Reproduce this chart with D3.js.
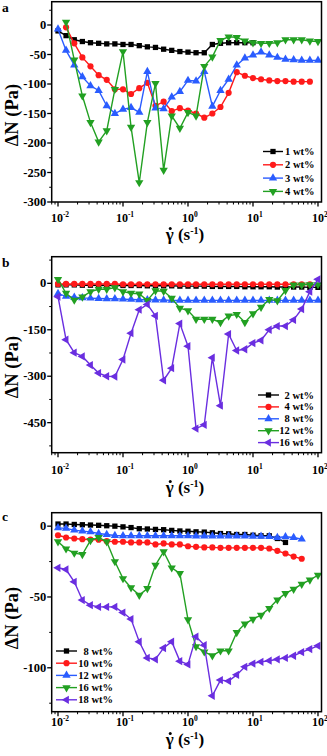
<!DOCTYPE html>
<html>
<head>
<meta charset="utf-8">
<script src="https://cdn.jsdelivr.net/npm/d3@7"></script>
<style>
  html, body { margin:0; padding:0; background:#fff; }
  svg { display:block; font-family:"Liberation Serif","Times New Roman",serif; font-weight:bold; }
</style>
</head>
<body>
<svg id="chart" width="327" height="756"></svg>
<script>
// shear rates (s^-1), 8 points per decade
var shearRate = [0.01, 0.0133, 0.0178, 0.0237, 0.0316, 0.0422, 0.0562, 0.075,
  0.1, 0.133, 0.178, 0.237, 0.316, 0.422, 0.562, 0.75,
  1, 1.33, 1.78, 2.37, 3.16, 4.22, 5.62, 7.5,
  10, 13.3, 17.8, 23.7, 31.6, 42.2, 56.2, 75, 100];
var xTickExp = [-2, -1, 0, 1, 2];

// panel a
var namesA = ['1 wt%', '2 wt%', '3 wt%', '4 wt%'];
var a1 = [-10, -18, -25, -28, -30, -31, -32, -32, -33, -33, -35, -37, -38, -41, -43, -45, -46, -47, -47, -33, -31, -30, -30, -30, -30,
  null, null, null, null, null, null, null, null];
var a2 = [null, -4, -31, -55, -70, -85, -93, -109, -109, -117, -107, -98, -137, -130, -146, -141, -145, -150, -157, -150, -139, -115,
  -80, -86, -90, -92, -94, -95, -95, -96, -96, -96, null];
var a3 = [-7, -43, -68, -88, -103, -111, -137, -150, -143, -140, -148, -79, -141, -142, -122, -113, -94, -95, -79, -138, -111, -92,
  -68, -56, -51, -46, -51, -55, -58, -59, -60, -60, -60];
var a4 = [null, 5, -59, -120, -165, -198, -179, -109, -45, -173, -267, -165, -99, -246, -154, -175, -148, -154, -70, -54, -26, -20,
  -21, -27, -30, -31, -31, -30, -25, -25, -25, -27, -28];
var yTicksA = [0, -50, -100, -150, -200, -250, -300];

// panel b
var namesB = ['2 wt%', '4 wt%', '8 wt%', '12 wt%', '16 wt%'];
var b1 = [-5, -5, -5, -6, -6, -6, -6, -7, -7, -7, -7, -8, -8, -8, -8, -9, -9, -9, -9, -10, -10, -10, -10, -11, -11, -11, -11, -12,
  -12, -12, -12, -13, -13];
var b2 = [-2, -2, -2, -2, -2, -2, -2, -2, -3, -3, -3, -3, -3, -3, -3, -3, -3, -3, -3, -3, -3, -3, -3, -3, -3, -3, -3, -3,
  -3, -3, -3, -3, null];
var b3 = [-33, -42, -45, -47, -48, -49, -50, -50, -51, -52, -53, -53, -54, -54, -55, -55, -55, -55, -55, -55, -55, -55, -55, -55,
  -55, -55, -55, -55, -55, -55, -55, -55, -55];
var b4 = [13, -32, -54, -44, -27, -19, -19, -14, -27, -32, -34, -55, -24, -25, -48, -80, -88, -116, -116, -116, -126, -105, -100,
  -126, -98, -77, -52, -56, -23, -5, -5, -4, -4];
var b5 = [-43, -182, -224, -236, -264, -290, -300, -301, -246, -161, -85, -68, -105, -313, -274, -130, -203, -469, -457, -240,
  -395, -164, -217, -213, -193, -184, -150, -138, -138, -118, -83, -27, 13];
var yTicksB = [0, -150, -300, -450];

// panel c
var namesC = ['8 wt%', '10 wt%', '12 wt%', '16 wt%', '18 wt%'];
var c1 = [1.5, 1.5, 1.2, 1, 0.8, 0.6, 0.3, 0, -0.5, -1, -1.8, -2, -2.3, -2.5, -3, -3.4, -3.6, -4, -4.2, -4.7, -5.2, -5.4, -5.9,
  -5.9, -6.4, -6.8, -6.8, -8.7, -11.5, null, null, null, null];
var c2 = [-6.4, -8, -8.7, -9.2, -9.4, -9.6, -10.6, -11, -11, -11.5, -11.5, -11.5, -12.9, -12.2, -12.9, -12.9, -14.2, -14.6, -15,
  -15, -15.3, -15.3, -15.3, -15.3, -15.3, -15.3, -15.8, -17.4, -19.3, -21.5, -23, null, null];
var c3 = [-1.2, -1.6, -2.8, -3.5, -4, -5.2, -5.9, -6.6, -6.8, -6.8, -6.8, -6.8, -6.8, -6.8, -6.8, -6.8, -6.8, -7, -7, -7, -7, -7,
  -7, -7, -7.2, -7.2, -7.4, -8, -7.5, -8, -9.2, null, null];
var c4 = [-11, -16, -19, -20, -10, -8, -11, -25, -37, -43.5, -48.7, -44, -27.5, -18, -29.4, -33.4, -66, -85, -88.7, -91.5, -88,
  -88, -75, -69, -65.6, -62.8, -58, -52, -47.5, -44.5, -41, -38, -34.6];
var c5 = [-29.4, -30.6, -39.3, -52.2, -55.8, -57, -57, -57, -61, -65.6, -81.6, -93, -94, -86, -81.6, -95.3, -97.6, -78, -84,
  -119.8, -108.7, -109.4, -105, -99.3, -97, -95.8, -95, -94, -93, -91.5, -89, -86.8, -84.5];
var yTicksC = [0, -50, -100];

var colors = { black: '#000000', red: '#ff1a1a', blue: '#2a5cff', green: '#22a022', purple: '#6a2ee0' };
var marks = {
  square: { type: d3.symbolSquare, size: 28, rot: 0 },
  circle: { type: d3.symbolCircle, size: 30, rot: 0 },
  up: { type: d3.symbolTriangle, size: 30, rot: 0 },
  down: { type: d3.symbolTriangle, size: 30, rot: 180 },
  left: { type: d3.symbolTriangle, size: 30, rot: -90 }
};

var panels = [
  { label: 'a', top: 1.7, bottom: 202, yDomain: [-300, 39.5], yTicks: yTicksA, minorStep: 25,
    labY: 12, tickLabY: 222, titleY: 240, yTitleC: 115,
    series: [[a1, 'black', 'square'], [a2, 'red', 'circle'], [a3, 'blue', 'up'], [a4, 'green', 'down']], names: namesA,
    legend: { x0: 263, x1: 283, tx: 285, anchor: 'start', y0: 151.5, dy: 13.3 } },
  { label: 'b', top: 256.7, bottom: 452.7, yDomain: [-547, 86], yTicks: yTicksB, minorStep: 75,
    labY: 267, tickLabY: 474, titleY: 493, yTitleC: 367,
    series: [[b1, 'black', 'square'], [b2, 'red', 'circle'], [b3, 'blue', 'up'], [b4, 'green', 'down'], [b5, 'purple', 'left']],
    names: namesB,
    legend: { x0: 258, x1: 279, tx: 314, anchor: 'end', y0: 395, dy: 11.9 } },
  { label: 'c', top: 512.7, bottom: 711.7, yDomain: [-131, 9.5], yTicks: yTicksC, minorStep: 25,
    labY: 521, tickLabY: 726, titleY: 745, yTitleC: 618,
    series: [[c1, 'black', 'square'], [c2, 'red', 'circle'], [c3, 'blue', 'up'], [c4, 'green', 'down'], [c5, 'purple', 'left']],
    names: namesC,
    legend: { x0: 56, x1: 77, tx: 113, anchor: 'end', y0: 651, dy: 12.2 } }
];

var svg = d3.select('#chart');
var left = 51.7, right = 321.5;

panels.forEach(function(p) {
  var g = svg.append('g');
  var x = d3.scaleLog().domain([Math.pow(10, -2.097), Math.pow(10, 2.054)]).range([left, right]);
  var y = d3.scaleLinear().domain(p.yDomain).range([p.bottom, p.top]);

  // x ticks (outward)
  var minor = [];
  for (var e = -3; e <= 2; e++) {
    for (var k = 2; k <= 9; k++) {
      var v = k * Math.pow(10, e);
      if (v > x.domain()[0] && v < x.domain()[1]) minor.push(v);
    }
  }
  g.selectAll('.xminor').data(minor).enter().append('line')
    .attr('x1', function(d) { return x(d); }).attr('x2', function(d) { return x(d); })
    .attr('y1', p.bottom).attr('y2', p.bottom + 2.5)
    .attr('stroke', '#000').attr('stroke-width', 1);
  g.selectAll('.xmajor').data(xTickExp).enter().append('line')
    .attr('x1', function(d) { return x(Math.pow(10, d)); }).attr('x2', function(d) { return x(Math.pow(10, d)); })
    .attr('y1', p.bottom).attr('y2', p.bottom + 4.5)
    .attr('stroke', '#000').attr('stroke-width', 1.3);
  var xl = g.selectAll('.xlab').data(xTickExp).enter().append('text')
    .attr('x', function(d) { return x(Math.pow(10, d)) + 2; })
    .attr('y', p.tickLabY)
    .attr('text-anchor', 'middle')
    .attr('font-size', 12);
  xl.append('tspan').text('10');
  xl.append('tspan').attr('dy', -5).attr('font-size', 7.5).text(function(d) { return d; });

  // y ticks (outward)
  var ymin = [];
  for (var t = Math.ceil(p.yDomain[0] / p.minorStep) * p.minorStep; t <= p.yDomain[1]; t += p.minorStep) {
    if (p.yTicks.indexOf(t) < 0) ymin.push(t);
  }
  g.selectAll('.yminor').data(ymin).enter().append('line')
    .attr('x1', left - 2.5).attr('x2', left)
    .attr('y1', function(d) { return y(d); }).attr('y2', function(d) { return y(d); })
    .attr('stroke', '#000').attr('stroke-width', 1);
  g.selectAll('.ymajor').data(p.yTicks).enter().append('line')
    .attr('x1', left - 4.5).attr('x2', left)
    .attr('y1', function(d) { return y(d); }).attr('y2', function(d) { return y(d); })
    .attr('stroke', '#000').attr('stroke-width', 1.3);
  g.selectAll('.ylab').data(p.yTicks).enter().append('text')
    .attr('x', left - 5.5).attr('y', function(d) { return y(d) + 4; })
    .attr('text-anchor', 'end').attr('font-size', 12.5)
    .text(function(d) { return d; });

  // series
  var line = d3.line()
    .defined(function(d) { return d.v != null; })
    .x(function(d) { return x(d.x); })
    .y(function(d) { return y(d.v); });

  p.series.forEach(function(s) {
    var pts = s[0].map(function(v, i) { return { x: shearRate[i], v: v }; });
    var col = colors[s[1]], m = marks[s[2]];
    g.append('path').datum(pts).attr('d', line)
      .attr('fill', 'none').attr('stroke', col).attr('stroke-width', 1.4);
    g.selectAll(null).data(pts.filter(function(d) { return d.v != null; })).enter().append('path')
      .attr('d', d3.symbol().type(m.type).size(m.size))
      .attr('transform', function(d) { return 'translate(' + x(d.x) + ',' + y(d.v) + ') rotate(' + m.rot + ')'; })
      .attr('fill', col);
  });

  // frame
  g.append('rect').attr('x', left).attr('y', p.top)
    .attr('width', right - left).attr('height', p.bottom - p.top)
    .attr('fill', 'none').attr('stroke', '#000').attr('stroke-width', 1.5);

  // legend
  var L = p.legend;
  p.series.forEach(function(s, i) {
    var ly = L.y0 + i * L.dy, col = colors[s[1]], m = marks[s[2]];
    g.append('line').attr('x1', L.x0).attr('x2', L.x1).attr('y1', ly).attr('y2', ly)
      .attr('stroke', col).attr('stroke-width', 1.4);
    g.append('path').attr('d', d3.symbol().type(m.type).size(m.size))
      .attr('transform', 'translate(' + ((L.x0 + L.x1) / 2) + ',' + ly + ') rotate(' + m.rot + ')')
      .attr('fill', col);
    g.append('text').attr('x', L.tx).attr('y', ly + 3.5)
      .attr('text-anchor', L.anchor).attr('font-size', 10.5)
      .text(p.names[i]);
  });

  // titles
  g.append('text').attr('x', 2).attr('y', p.labY).attr('font-size', 13.5).text(p.label);
  g.append('text')
    .attr('transform', 'translate(17.5,' + p.yTitleC + ') rotate(-90)')
    .attr('text-anchor', 'middle').attr('font-size', 18.5)
    .text('\u0394N (Pa)');
  var xt = g.append('text').attr('x', 185).attr('y', p.titleY)
    .attr('text-anchor', 'middle').attr('font-size', 17);
  xt.append('tspan').text('\u03B3 (s');
  xt.append('tspan').attr('dy', -6).attr('font-size', 10).text('-1');
  xt.append('tspan').attr('dy', 6).text(')');
  // dot over gamma
  var ext = xt.node().getExtentOfChar(0);
  g.append('circle').attr('cx', ext.x + ext.width / 2 + 0.5).attr('cy', p.titleY - 11.5)
    .attr('r', 1.5).attr('fill', '#000');
});
</script>
</body>
</html>
